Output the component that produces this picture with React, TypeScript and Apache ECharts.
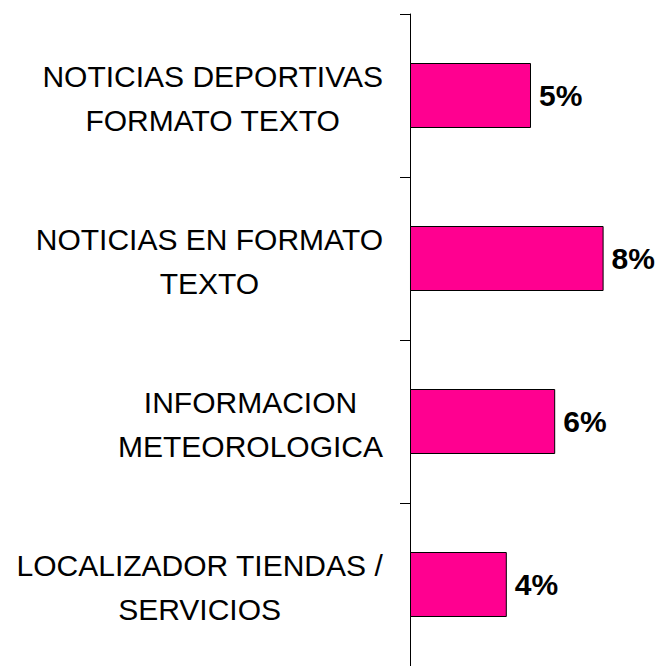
import React, { useEffect, useRef } from "react";
import * as echarts from "echarts";

const categories: string[] = [
  "NOTICIAS DEPORTIVAS\nFORMATO TEXTO",
  "NOTICIAS EN FORMATO\nTEXTO",
  "INFORMACION\nMETEOROLOGICA",
  "LOCALIZADOR TIENDAS /\nSERVICIOS",
];
const values: number[] = [5, 8, 6, 4];

const FONT = "'Liberation Sans', Arial, Helvetica, sans-serif";

export default function App() {
  const ref = useRef<HTMLDivElement>(null);
  useEffect(() => {
    if (!ref.current) return;
    const chart = echarts.init(ref.current, null, { renderer: "svg" });
    chart.setOption({
      animation: false,
      backgroundColor: "#ffffff",
      grid: { left: 410, top: 14, bottom: 0, width: 242, containLabel: false },
      xAxis: {
        type: "value",
        min: 0,
        max: 10,
        show: false,
        splitLine: { show: false },
      },
      yAxis: {
        type: "category",
        data: categories,
        inverse: true,
        axisLine: { show: true, lineStyle: { color: "#000", width: 1 } },
        axisTick: { show: true, length: 10, lineStyle: { color: "#000", width: 1 } },
        axisLabel: {
          margin: 27,
          align: "right",
          color: "#000",
          fontFamily: FONT,
          formatter: (v: string) =>
            v
              .split("\n")
              .map((l) => `{a|${l}}`)
              .join("\n"),
          rich: {
            a: {
              align: "center",
              fontSize: 30,
              lineHeight: 44,
              fontFamily: FONT,
              color: "#000",
            },
          },
          padding: [5, 0, 0, 0],
        },
      },
      series: [
        {
          type: "bar",
          data: values,
          barWidth: 65,
          itemStyle: { color: "#FF0090", borderColor: "#000", borderWidth: 1 },
          label: {
            show: true,
            position: "right",
            distance: 8,
            formatter: (p: any) => `${p.value}%`,
            fontSize: 30,
            fontWeight: "bold",
            fontFamily: FONT,
            color: "#000",
          },
        },
      ],
    });
    return () => chart.dispose();
  }, []);
  return (
    <div
      ref={ref}
      style={{ position: "fixed", left: 0, top: 0, width: 664, height: 666 }}
    />
  );
}
